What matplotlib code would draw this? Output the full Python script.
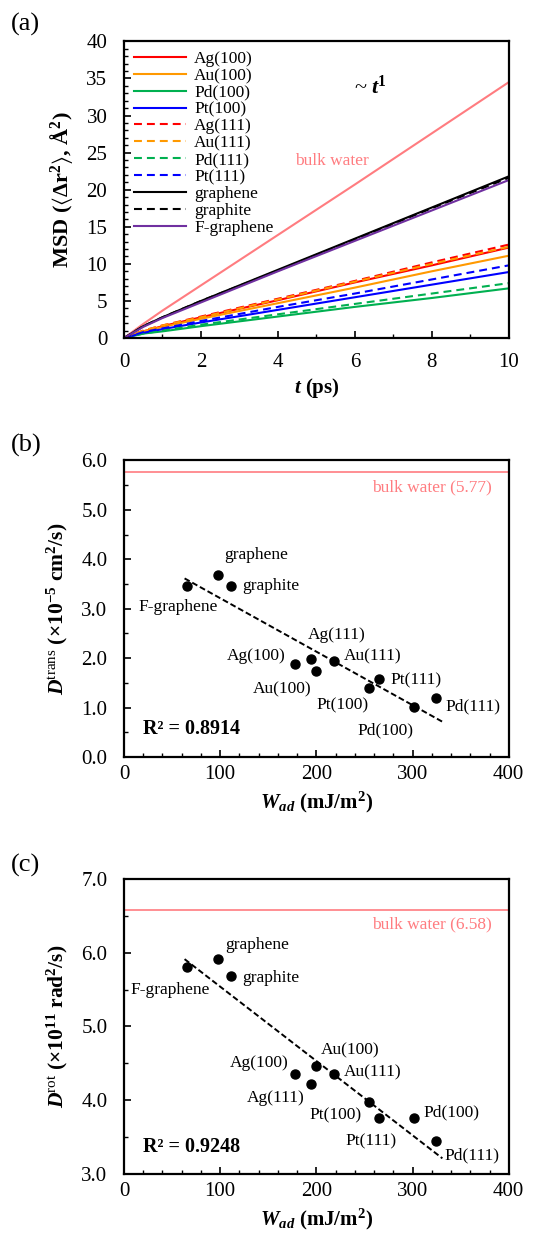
import numpy as np
import matplotlib
matplotlib.use('Agg')
import matplotlib.pyplot as plt
from matplotlib.ticker import MultipleLocator, FormatStrFormatter

plt.rcParams['font.family'] = ['Liberation Serif', 'DejaVu Serif']
plt.rcParams['mathtext.fontset'] = 'custom'
plt.rcParams['mathtext.rm'] = 'Liberation Serif'
plt.rcParams['mathtext.it'] = 'Liberation Serif:italic'
plt.rcParams['mathtext.bf'] = 'Liberation Serif:bold'
plt.rcParams['mathtext.bfit'] = 'Liberation Serif:bold:italic'
plt.rcParams['mathtext.fallback'] = 'stix'

# ---- (a) MSD vs t ----
t = [0, 0.5, 1, 2, 4, 6, 8, 10]
msd_bulk = [0, 1.9, 3.7, 7.1, 13.9, 20.7, 27.6, 34.5]
msd = {
    'Ag(100)':    [0, 0.9, 1.6, 2.8, 5.1, 7.5, 9.8, 12.2],
    'Au(100)':    [0, 0.9, 1.5, 2.6, 4.7, 6.8, 9.0, 11.1],
    'Pd(100)':    [0, 0.6, 0.9, 1.6, 2.9, 4.2, 5.4, 6.7],
    'Pt(100)':    [0, 0.7, 1.2, 2.1, 3.8, 5.5, 7.2, 8.9],
    'Ag(111)':    [0, 1.0, 1.7, 2.9, 5.3, 7.7, 10.2, 12.6],
    'Au(111)':    [0, 1.0, 1.7, 2.8, 5.2, 7.6, 10.0, 12.3],
    'Pd(111)':    [0, 0.6, 1.0, 1.8, 3.2, 4.6, 6.0, 7.4],
    'Pt(111)':    [0, 0.8, 1.3, 2.3, 4.2, 6.0, 7.9, 9.8],
    'graphene':   [0, 1.6, 2.8, 5.0, 9.2, 13.4, 17.6, 21.8],
    'graphite':   [0, 1.6, 2.8, 5.0, 9.1, 13.3, 17.5, 21.6],
    'F-graphene': [0, 1.5, 2.7, 4.8, 9.0, 13.1, 17.2, 21.3],
}
colors = {'Ag': '#ff0000', 'Au': '#ff9900', 'Pd': '#00b050', 'Pt': '#0000ff'}

# ---- (b), (c) diffusion vs adhesion work ----
names = ['F-graphene', 'graphene', 'graphite', 'Ag(100)', 'Ag(111)', 'Au(100)',
         'Au(111)', 'Pt(100)', 'Pt(111)', 'Pd(100)', 'Pd(111)']
w_ad = [65, 98, 111, 178, 194, 200, 218, 255, 265, 301, 324]
d_trans = [3.46, 3.69, 3.46, 1.88, 1.99, 1.74, 1.95, 1.40, 1.58, 1.01, 1.19]
d_rot = [5.81, 5.92, 5.68, 4.36, 4.22, 4.47, 4.36, 3.98, 3.76, 3.76, 3.44]
bulk_trans = 5.77
bulk_rot = 6.58
r2_trans = 0.8914
r2_rot = 0.9248

# label offsets (points)
off_b = {'graphene': (27, 14), 'graphite': (29, 0), 'F-graphene': (-6, -15),
         'Ag(111)': (19, 17), 'Ag(100)': (-28, 6), 'Au(111)': (28, 3),
         'Au(100)': (-25, -13), 'Pt(111)': (27, -1), 'Pt(100)': (-19, -13),
         'Pd(100)': (-20, -17), 'Pd(111)': (27, -6)}
off_c = {'graphene': (28, 10), 'graphite': (29, -1), 'F-graphene': (-12, -17),
         'Ag(100)': (-26, 8), 'Ag(111)': (-25, -10), 'Au(100)': (24, 11),
         'Au(111)': (28, 1), 'Pt(100)': (-24, -10), 'Pt(111)': (-6, -17),
         'Pd(100)': (27, 4), 'Pd(111)': (26, -10)}

fig = plt.figure(figsize=(5.56, 12.36), dpi=100)
ax1 = fig.add_axes([0.223, 0.7265, 0.692, 0.240])
ax2 = fig.add_axes([0.223, 0.3875, 0.692, 0.240])
ax3 = fig.add_axes([0.223, 0.0502, 0.692, 0.2387])

bulk_col = '#ff7c80'

ax1.plot(t, msd_bulk, color=bulk_col, lw=1.5)
for name, vals in msd.items():
    if name in ('graphene', 'graphite'):
        c = 'black'
    elif name == 'F-graphene':
        c = '#7030a0'
    else:
        c = colors[name[:2]]
    ls = (0, (3.8, 2.4)) if ('111' in name or name == 'graphite') else '-'
    ax1.plot(t, vals, color=c, ls=ls, lw=1.5, label=name)

ax1.set_xlim(0, 10)
ax1.set_ylim(0, 40)
ax1.xaxis.set_major_locator(MultipleLocator(2))
ax1.xaxis.set_minor_locator(MultipleLocator(1))
ax1.yaxis.set_major_locator(MultipleLocator(5))
ax1.yaxis.set_minor_locator(MultipleLocator(1))
ax1.set_xlabel(r'$\mathbfit{t}$ (ps)', fontsize=15, fontweight='bold', labelpad=3)
ax1.set_ylabel(r'MSD ($\langle$Δr$^{\mathbf{2}}$$\rangle$, Å$^{\mathbf{2}}$)',
               fontsize=16, fontweight='bold', labelpad=8)
ax1.text(5.4, 23.9, 'bulk water', color=bulk_col, fontsize=12.5, ha='center', va='center')
ax1.text(6.4, 33.8, r'~ $\mathbfit{t}^{\mathbf{1}}$', fontsize=16, ha='center', va='center')
ax1.legend(loc='upper left', frameon=False, fontsize=12.5, handlelength=3.0,
           labelspacing=0.04, borderaxespad=0.15, handletextpad=0.5)


def scatter_panel(ax, y, bulk, r2, offs, ylim, ylabel, bulk_y, r2_y):
    ax.axhline(bulk, color=bulk_col, lw=1.2)
    ax.plot(w_ad, y, 'o', color='black', ms=6.5)
    k, b = np.polyfit(w_ad, y, 1)
    xf = np.array([min(w_ad) - 2, max(w_ad) + 7])
    ax.plot(xf, k * xf + b, color='black', ls=(0, (3, 1.5)), lw=1.4)
    for n, xv, yv in zip(names, w_ad, y):
        ax.annotate(n, (xv, yv), xytext=offs[n], textcoords='offset points',
                    ha='center', va='center', fontsize=12.5)
    ax.text(382, bulk_y, f'bulk water ({bulk:.2f})', color=bulk_col, fontsize=12.5,
            ha='right', va='center')
    ax.text(20, r2_y, f'R² = {r2:.4f}', fontsize=14.5, fontweight='bold', ha='left', va='center')
    ax.set_xlim(0, 400)
    ax.set_ylim(*ylim)
    ax.xaxis.set_major_locator(MultipleLocator(100))
    ax.xaxis.set_minor_locator(MultipleLocator(20))
    ax.yaxis.set_major_locator(MultipleLocator(1))
    ax.yaxis.set_minor_locator(MultipleLocator(0.5))
    ax.yaxis.set_major_formatter(FormatStrFormatter('%.1f'))
    ax.set_xlabel(r'$\mathbfit{W}_{\mathbfit{ad}}$ (mJ/m$^{\mathbf{2}}$)', fontsize=15,
                  fontweight='bold', labelpad=4)
    ax.set_ylabel(ylabel, fontsize=15.5, fontweight='bold', labelpad=8)
    ax.tick_params(axis='x', which='major', pad=6)


scatter_panel(ax2, d_trans, bulk_trans, r2_trans, off_b, (0, 6),
              r'$\mathbfit{D}^{\mathrm{trans}}$ (×10$^{\mathbf{-5}}$ cm$^{\mathbf{2}}$/s)', 5.45, 0.57)
scatter_panel(ax3, d_rot, bulk_rot, r2_rot, off_c, (3, 7),
              r'$\mathbfit{D}^{\mathrm{rot}}$ (×10$^{\mathbf{11}}$ rad$^{\mathbf{2}}$/s)', 6.38, 3.37)

for ax in (ax1, ax2, ax3):
    ax.tick_params(which='both', direction='in', top=False, right=False, labelsize=15)
    ax.tick_params(which='major', length=5, width=1.2)
    ax.tick_params(which='minor', length=3, width=1.0)
    ax.tick_params(axis='y', which='major', pad=12)
    for s in ax.spines.values():
        s.set_linewidth(1.6)
ax1.tick_params(axis='x', which='major', pad=11)

for lab, yy in zip(['(a)', '(b)', '(c)'], [0.980, 0.640, 0.300]):
    fig.text(0.02, yy, lab, fontsize=19, ha='left', va='center')

fig.savefig('out.png', dpi=100)
